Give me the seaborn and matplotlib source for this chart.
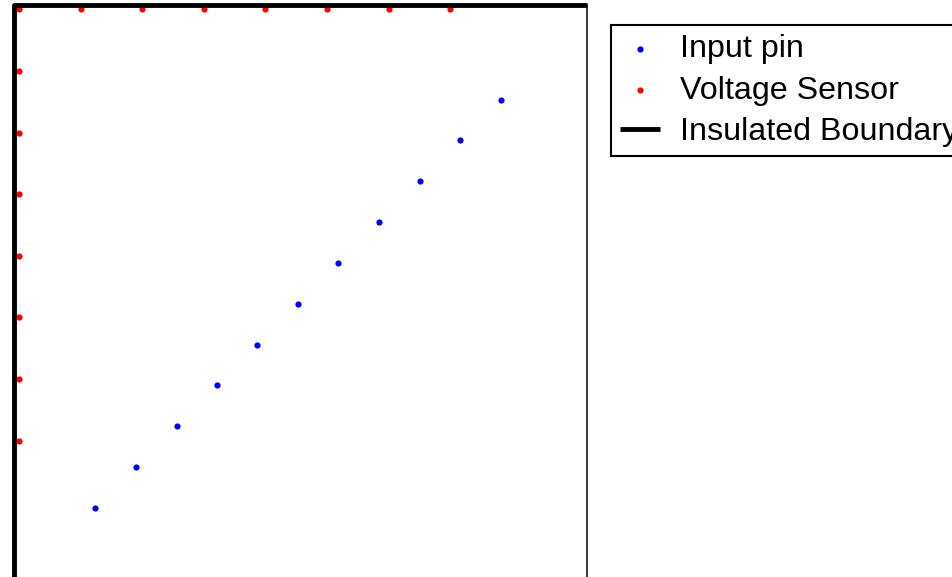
import matplotlib
matplotlib.use("Agg")
import matplotlib.pyplot as plt
import seaborn as sns
import pandas as pd

# domain size (units of sensor spacing)
L = 9.3

# voltage sensors along insulated top edge and left edge
sensor_x = [0.08, 1.08, 2.08, 3.08, 4.08, 5.08, 6.08, 7.08,
            0.08, 0.08, 0.08, 0.08, 0.08, 0.08, 0.08]
sensor_y = [9.23, 9.23, 9.23, 9.23, 9.23, 9.23, 9.23, 9.23,
            8.22, 7.22, 6.22, 5.22, 4.22, 3.22, 2.22]

# input pins on the diagonal
pin_x = [1.31, 1.98, 2.65, 3.30, 3.95, 4.61, 5.26, 5.93, 6.59, 7.24, 7.91]
pin_y = [1.13, 1.79, 2.46, 3.12, 3.77, 4.44, 5.10, 5.77, 6.43, 7.10, 7.75]

pins = pd.DataFrame({"x": pin_x, "y": pin_y})
sensors = pd.DataFrame({"x": sensor_x, "y": sensor_y})

sns.set_style("white")
plt.rcParams['font.family'] = ['Liberation Sans', 'DejaVu Sans']
plt.rcParams['text.color'] = 'black'

fig = plt.figure(figsize=(9.53, 5.77), dpi=100)
ax = fig.add_axes([14 / 953, 1 - 4.5 / 577 - 573 / 577, 573 / 953, 573 / 577])

sns.scatterplot(data=pins, x="x", y="y", ax=ax, color="blue", s=20,
                linewidth=0, label="Input pin")
sns.scatterplot(data=sensors, x="x", y="y", ax=ax, color="red", s=20,
                linewidth=0, label="Voltage Sensor")
ax.plot([0, 0, L], [0, L, L], color="black", lw=3.5, clip_on=False,
        solid_capstyle="butt", label="Insulated Boundary")

ax.set_xlim(0, L)
ax.set_ylim(0, L)
ax.set_xticks([])
ax.set_yticks([])
ax.set_xlabel("")
ax.set_ylabel("")
for side in ["left", "top", "bottom"]:
    ax.spines[side].set_visible(False)
ax.spines["right"].set_color("black")
ax.spines["right"].set_linewidth(1.1)

leg = ax.legend(loc="upper left", bbox_to_anchor=(611 / 953, 1 - 25 / 577),
                bbox_transform=fig.transFigure, fontsize=23.2, frameon=True,
                fancybox=False, framealpha=1, edgecolor="black",
                handlelength=1.25, handletextpad=0.6, labelspacing=0.36,
                markerscale=1.0, borderaxespad=0, borderpad=0.28)
leg.get_frame().set_linewidth(1.5)
for t in leg.get_texts():
    t.set_color("black")

fig.savefig("out.png", dpi=100)
